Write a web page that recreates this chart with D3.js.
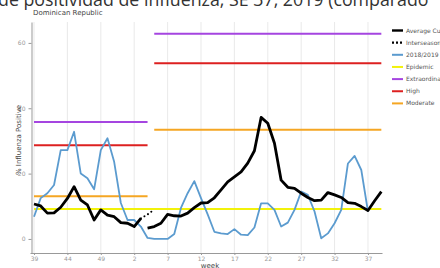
<!DOCTYPE html>
<html><head><meta charset="utf-8">
<script src="https://cdn.jsdelivr.net/npm/d3@7"></script>
<style>html,body{margin:0;padding:0;background:#fff;overflow:hidden}svg{display:block}</style>
</head><body><svg id="c" width="440" height="268"></svg>
<script>
const weeks = [39,40,41,42,43,44,45,46,47,48,49,50,51,52,1,2,3,4,5,6,7,8,9,10,11,12,13,14,15,16,17,18,19,20,21,22,23,24,25,26,27,28,29,30,31,32,33,34,35,36,37,38,39];
const tickLabels = [39,44,49,2,7,12,17,22,27,32,37];
const season1819 = [6.8,12.5,14,16.5,27.2,27.2,32.8,20,18.6,15.2,27.2,30.8,23.6,11,5.8,5.8,3.8,0.3,0,0,0,1.5,9.5,14,17.7,12.5,7.5,2.2,1.7,1.5,3,1.3,1.2,3.5,10.9,10.9,8.9,3.8,5.0,8.9,14.5,13.5,8.4,0.2,1.7,4.8,8.9,23.1,25.4,21.1,8.4];
const avgCurveA = [10.7,10.1,7.9,8,9.7,12.4,16,11.9,10.4,5.8,8.9,7.3,6.8,5,4.8,3.8,6.3];            // weeks 39..3
const interseasonal = [6.3,7.5,9.0];                                                              // weeks 3..5
const avgCurveB = [3.3,3.8,4.8,7.5,7.1,7,7.9,9.6,11,11.1,12.6,15,17.5,19,20.5,23.2,27,37.2,35.4,29.3,18,15.8,15.5,14,12.7,11.7,11.9,14.2,13.5,12.7,11.1,10.9,9.9,8.7,11.7,14.5]; // weeks 4..39
const periods = [[0,17],[18,52]];          // index spans of the two threshold periods
const moderateLevels = [13.1, 33.4];
const highLevels = [28.7, 53.8];
const extraLevels = [35.8, 62.8];
const epidemicLevel = 9.2;
const yTicks = [0,20,40,60];
const legendItems = ["Average Curve","Interseasonal Curve","2018/2019","Epidemic","Extraordinary","High","Moderate"];

const svg = d3.select("#c");
const x = d3.scaleLinear().domain([-0.6, 52.1]).range([30, 382]);
const y = d3.scaleLinear().domain([-4.3, 66.4]).range([253, 22]);

// top cut title
svg.append("text").attr("x",-2).attr("y",5.5).attr("font-family","Open Sans, DejaVu Sans, sans-serif")
  .attr("font-size",17.8).attr("fill","#333").text("de positividad de influenza, SE 37, 2019 (comparado");
svg.append("text").attr("x",33).attr("y",15).attr("font-family","DejaVu Sans, sans-serif")
  .attr("font-size",7).attr("fill","#444").text("Dominican Republic");

// gridlines
const tickIdx = tickLabels.map((t,i)=> i*5);
svg.append("g").selectAll("line").data(tickIdx).join("line")
  .attr("x1",d=>x(d)).attr("x2",d=>x(d)).attr("y1",22).attr("y2",253)
  .attr("stroke","#e3e3e3").attr("stroke-width",0.8);

// axes
const xAxis = d3.axisBottom(x).tickValues(tickIdx).tickFormat((d,i)=>tickLabels[i]).tickSize(2).tickSizeOuter(0);
const gx = svg.append("g").attr("transform","translate(0,253)").call(xAxis);
gx.select(".domain").attr("stroke","#999");
gx.selectAll(".tick line").attr("stroke","#999");
gx.selectAll("text").attr("fill","#999").attr("font-size",6).attr("font-family","DejaVu Sans, sans-serif").attr("dy","0.5em");
const yAxis = d3.axisLeft(y).tickValues(yTicks).tickSize(3).tickSizeOuter(0);
const gy = svg.append("g").attr("transform","translate(31.5,0)").call(yAxis);
gy.select(".domain").attr("stroke","#999");
gy.selectAll(".tick line").attr("stroke","#999");
gy.selectAll("text").attr("fill","#999").attr("font-size",6).attr("font-family","DejaVu Sans, sans-serif");

svg.append("text").attr("transform","translate(21,140) rotate(-90)").attr("text-anchor","middle")
  .attr("font-family","DejaVu Sans, sans-serif").attr("font-size",7).attr("fill","#444").text("% Influenza Positive");
svg.append("text").attr("x",210).attr("y",267.5).attr("text-anchor","middle")
  .attr("font-family","DejaVu Sans, sans-serif").attr("font-size",7).attr("fill","#444").text("week");

const colors = {avg:"#000", blue:"#5b9bcf", epi:"#f2f20a", extra:"#a545e0", high:"#dd2020", mod:"#f5a623"};

function hline(level, span, color){
  svg.append("line").attr("x1",x(span[0])).attr("x2",x(span[1])).attr("y1",y(level)).attr("y2",y(level))
    .attr("stroke",color).attr("stroke-width",2);
}
periods.forEach((p,i)=>{
  hline(moderateLevels[i], p, colors.mod);
  hline(highLevels[i], p, colors.high);
  hline(extraLevels[i], p, colors.extra);
});
hline(epidemicLevel, [0,52], colors.epi);

const line = d3.line().x(d=>x(d[0])).y(d=>y(d[1]));
function series(vals, start, color, w, dash){
  const p = svg.append("path").datum(vals.map((v,i)=>[start+i,v])).attr("d",line)
    .attr("fill","none").attr("stroke",color).attr("stroke-width",w).attr("stroke-linejoin","round");
  if(dash) p.attr("stroke-dasharray",dash).attr("stroke-linecap","round");
}
series(season1819, 0, colors.blue, 1.8);
series(avgCurveA, 0, colors.avg, 2.8);
series(interseasonal, 16, colors.avg, 2, "0.1,4");
series(avgCurveB, 17, colors.avg, 2.8);

// legend
const lcol = [colors.avg, colors.avg, colors.blue, colors.epi, colors.extra, colors.high, colors.mod];
const lg = svg.append("g");
legendItems.forEach((t,i)=>{
  const yy = 30.5 + i*12.15;
  const l = lg.append("line").attr("x1",392).attr("x2",403).attr("y1",yy).attr("y2",yy).attr("stroke",lcol[i]).attr("stroke-width", i<2?2.4:2);
  if(i===1) l.attr("stroke-dasharray","2,2");
  lg.append("text").attr("x",406).attr("y",yy+2).attr("font-family","DejaVu Sans, sans-serif").attr("font-size",6)
    .attr("fill","#555").text(t);
});
</script></body></html>
